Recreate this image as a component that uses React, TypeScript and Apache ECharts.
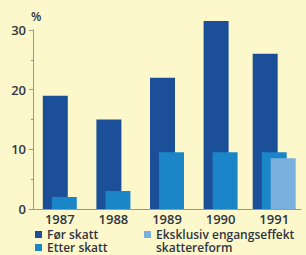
import React, { useEffect, useRef } from "react";
import * as echarts from "echarts";

const years = ["1987", "1988", "1989", "1990", "1991"];
const forSkatt = [19, 15, 22, 31.5, null];
const etterSkatt = [2, 3, 9.5, 9.5, null];
const forSkatt1991 = [null, null, null, null, 26];
const etterSkatt1991 = [null, null, null, null, 9.5];
const eksklusiv1991 = [null, null, null, null, 8.5];
const yTicks = { min: 0, max: 30, interval: 10 };

const NAME_FOR = "Før skatt";
const NAME_ETTER = "Etter skatt";
const NAME_EKS = "Eksklusiv engangseffekt skattereform";

const C_DARK = "#1b4f98";
const C_MED = "#1a86c8";
const C_LIGHT = "#7ab0de";
const BG = "#fcf8cc";
const TXT = "#2f3540";
const AXIS = "#9a9888";
const FONT = "'Open Sans', 'Noto Sans', sans-serif";

export default function App() {
  const ref = useRef<HTMLDivElement>(null);
  useEffect(() => {
    if (!ref.current) return;
    const chart = echarts.init(ref.current, undefined, { renderer: "svg" });
    const barCommon = {
      type: "bar" as const,
      barWidth: 25,
      barGap: "-64%",
      clip: false,
    };
    chart.setOption({
      animation: false,
      backgroundColor: BG,
      textStyle: { fontFamily: FONT },
      grid: { left: 33, top: 30, width: 268, height: 179 },
      xAxis: [
        {
          type: "category",
          data: years,
          axisLine: { show: true, lineStyle: { color: AXIS, width: 1 } },
          axisTick: { show: false },
          axisLabel: { color: TXT, fontSize: 13, fontWeight: 600, fontFamily: FONT, margin: 3 },
          splitLine: { show: false },
        },
        {
          type: "category",
          data: years,
          show: false,
        },
      ],
      yAxis: {
        type: "value",
        min: yTicks.min,
        max: yTicks.max,
        interval: yTicks.interval,
        axisLine: { show: true, lineStyle: { color: AXIS, width: 1 } },
        axisTick: { show: true, length: 4, lineStyle: { color: AXIS } },
        minorTick: { show: true, splitNumber: 2, length: 2, lineStyle: { color: AXIS } },
        splitLine: { show: false },
        axisLabel: { color: TXT, fontSize: 13, fontWeight: 600, fontFamily: FONT, margin: 7 },
      },
      legend: [
        {
          data: [NAME_FOR, NAME_ETTER],
          orient: "vertical",
          left: 35,
          top: 228,
          height: 27,
          padding: 0,
          itemWidth: 7,
          itemHeight: 7,
          itemGap: 0,
          icon: "rect",
          selectedMode: false,
          textStyle: { color: TXT, fontSize: 12, fontWeight: 600, fontFamily: FONT, lineHeight: 13 },
        },
        {
          data: [NAME_EKS],
          orient: "vertical",
          left: 144,
          top: 228,
          padding: 0,
          itemWidth: 7,
          itemHeight: 7,
          itemGap: 0,
          icon: "rect",
          selectedMode: false,
          formatter: () => "Eksklusiv engangseffekt",
          textStyle: { color: TXT, fontSize: 12, fontWeight: 600, fontFamily: FONT, lineHeight: 13 },
        },
      ],
      graphic: [
        {
          type: "text",
          left: 156,
          top: 241,
          style: { text: "skattereform", fill: TXT, font: `600 12px ${FONT}` },
        },
        {
          type: "text",
          left: 31,
          top: 10,
          style: { text: "%", fill: TXT, font: `600 12px ${FONT}` },
        },
      ],
      series: [
        { ...barCommon, name: NAME_FOR, xAxisIndex: 0, data: forSkatt, itemStyle: { color: C_DARK } },
        { ...barCommon, name: NAME_ETTER, xAxisIndex: 0, data: etterSkatt, itemStyle: { color: C_MED } },
        { ...barCommon, name: NAME_FOR, xAxisIndex: 1, data: forSkatt1991, itemStyle: { color: C_DARK } },
        { ...barCommon, name: NAME_ETTER, xAxisIndex: 1, data: etterSkatt1991, itemStyle: { color: C_MED } },
        { ...barCommon, name: NAME_EKS, xAxisIndex: 1, data: eksklusiv1991, itemStyle: { color: C_LIGHT } },
      ],
    });
    return () => chart.dispose();
  }, []);
  return (
    <div
      ref={ref}
      style={{ position: "fixed", left: 0, top: 0, width: 306, height: 255, background: BG }}
    />
  );
}
